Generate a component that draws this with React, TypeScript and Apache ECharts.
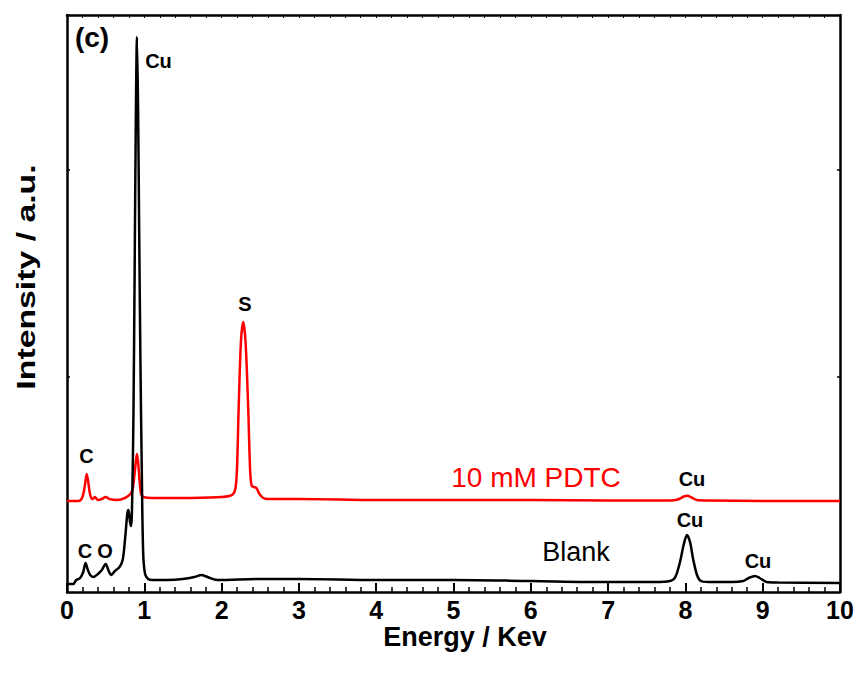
import React, { useEffect, useRef } from "react";
import * as echarts from "echarts";

// Energy (keV) values and intensities (a.u.)
const blankEnergy = [0.0, 0.08, 0.12, 0.17, 0.21, 0.24, 0.27, 0.3, 0.34, 0.4, 0.45, 0.5, 0.54, 0.57, 0.62, 0.68, 0.72, 0.75, 0.78, 0.795, 0.815, 0.83, 0.845, 0.86, 0.875, 0.89, 0.905, 0.92, 0.935, 0.95, 0.966, 0.985, 1.01, 1.05, 1.1, 1.3, 1.5, 1.65, 1.74, 1.85, 1.95, 2.5, 3, 4, 5, 6, 7, 7.6, 7.8, 7.87, 7.93, 7.98, 8.02, 8.06, 8.1, 8.15, 8.2, 8.3, 8.6, 8.75, 8.82, 8.9, 8.96, 9.05, 9.2, 10];
const blankIntensity = [8, 8, 12, 14, 20, 29, 22, 17, 15, 18, 22, 28, 21, 17, 21, 25, 32, 52, 78, 82, 70, 66, 100, 180, 320, 470, 555, 480, 350, 230, 130, 40, 18, 13, 12, 12, 13, 15, 17, 14, 12, 13, 13, 12, 12, 11, 10, 10, 11, 15, 30, 48, 57, 50, 33, 17, 11, 10, 10, 11, 14, 16, 14, 10, 9.5, 9];

const pdtcEnergy = [0.0, 0.15, 0.2, 0.23, 0.255, 0.275, 0.3, 0.33, 0.36, 0.4, 0.45, 0.5, 0.55, 0.65, 0.75, 0.82, 0.85, 0.87, 0.89, 0.905, 0.92, 0.94, 0.96, 0.99, 1.1, 1.5, 2.0, 2.1, 2.15, 2.18, 2.2, 2.22, 2.25, 2.28, 2.31, 2.345, 2.37, 2.39, 2.42, 2.45, 2.49, 2.54, 2.6, 3, 4, 5, 6, 7, 7.8, 7.9, 7.98, 8.02, 8.08, 8.15, 8.3, 9, 10];
const pdtcIntensity = [91, 91, 95, 106, 118, 110, 97, 93, 95, 92, 93, 95, 93, 92, 94, 98, 103, 115, 130, 138, 130, 110, 98, 95, 94, 94, 95, 96, 98, 104, 125, 182, 250, 270, 250, 182, 120, 106, 105, 104, 98, 94, 93, 93, 92, 92, 92, 91.5, 91.5, 92.5, 95.5, 96.3, 94.5, 92, 91.5, 91, 91];

const xTicks = [0, 1, 2, 3, 4, 5, 6, 7, 8, 9, 10];
const yTickValues = [215, 422];

const FONT = 'Arial, "Liberation Sans", Helvetica, sans-serif';

export default function App() {
  const ref = useRef<HTMLDivElement>(null);
  useEffect(() => {
    if (!ref.current) return;
    const chart = echarts.init(ref.current, undefined, { renderer: "svg" });
    const blank = blankEnergy.map((e, i) => [e, blankIntensity[i]]);
    const pdtc = pdtcEnergy.map((e, i) => [e, pdtcIntensity[i]]);
    const label = (text: string, x: number, y: number, size: number, weight: string, color = "#000", extra: any = {}) => ({
      type: "text",
      x,
      y,
      ...extra,
      style: { text, fill: color, fontSize: size, fontWeight: weight, fontFamily: FONT, align: "center", verticalAlign: "middle" },
    });
    chart.setOption({
      animation: false,
      backgroundColor: "#fff",
      grid: { left: 67, right: 21, top: 15, bottom: 86, show: false },
      xAxis: [
        {
          type: "value",
          min: xTicks[0],
          max: xTicks[xTicks.length - 1],
          interval: 1,
          position: "bottom",
          axisLine: { show: true, onZero: false, lineStyle: { color: "#000", width: 2.5 } },
          axisTick: { show: true, inside: true, length: 9, lineStyle: { color: "#000", width: 2 } },
          minorTick: { show: true, splitNumber: 5, length: 5, lineStyle: { color: "#000", width: 1.5 } },
          axisLabel: { show: true, margin: 5, fontSize: 25, fontWeight: "bold", fontFamily: FONT, color: "#000" },
          splitLine: { show: false },
        },
        {
          type: "value",
          min: xTicks[0],
          max: xTicks[xTicks.length - 1],
          interval: 1,
          position: "top",
          axisLine: { show: true, onZero: false, lineStyle: { color: "#000", width: 2.5 } },
          axisTick: { show: true, inside: true, length: 3, lineStyle: { color: "#000", width: 1 } },
          minorTick: { show: true, splitNumber: 5, length: 3, lineStyle: { color: "#000", width: 1 } },
          axisLabel: { show: false },
          splitLine: { show: false },
        },
      ],
      yAxis: [
        {
          type: "value",
          min: 0,
          max: 577,
          position: "left",
          axisLine: { show: true, onZero: false, lineStyle: { color: "#000", width: 2.5 } },
          axisTick: { show: true, inside: true, length: 3, customValues: yTickValues, lineStyle: { color: "#000", width: 1.5 } },
          axisLabel: { show: false },
          splitLine: { show: false },
        },
        {
          type: "value",
          min: 0,
          max: 577,
          position: "right",
          axisLine: { show: true, onZero: false, lineStyle: { color: "#000", width: 2.5 } },
          axisTick: { show: true, inside: true, length: 3, customValues: yTickValues, lineStyle: { color: "#000", width: 1.5 } },
          axisLabel: { show: false },
          splitLine: { show: false },
        },
      ],
      series: [
        {
          name: "Blank",
          type: "line",
          data: blank,
          showSymbol: false,
          smooth: 0.3,
          lineStyle: { color: "#000", width: 2.5 },
          z: 3,
        },
        {
          name: "10 mM PDTC",
          type: "line",
          data: pdtc,
          showSymbol: false,
          smooth: 0.3,
          lineStyle: { color: "#ff0000", width: 2.5 },
          z: 2,
        },
      ],
      graphic: [
        label("Energy / Kev", 465, 637, 27, "bold"),
        label("Intensity / a.u.", 26, 277, 26, "bold", "#000", { rotation: Math.PI / 2, scaleX: 1.3 }),
        label("(c)", 92, 37, 28, "bold"),
        label("Cu", 158.5, 61, 20, "bold"),
        label("S", 245, 304, 20, "bold"),
        label("C", 86.5, 455.5, 20, "bold"),
        label("C", 85, 550.5, 20, "bold"),
        label("O", 105, 550.5, 20, "bold"),
        label("10 mM PDTC", 536, 477, 28, "normal", "#ff0000"),
        label("Blank", 576, 552, 27, "normal"),
        label("Cu", 692, 478.5, 20, "bold"),
        label("Cu", 690, 520, 20, "bold"),
        label("Cu", 758, 560.5, 20, "bold"),
      ],
    });
    return () => chart.dispose();
  }, []);
  return <div ref={ref} style={{ position: "absolute", left: 0, top: 0, width: 861, height: 678 }} />;
}
